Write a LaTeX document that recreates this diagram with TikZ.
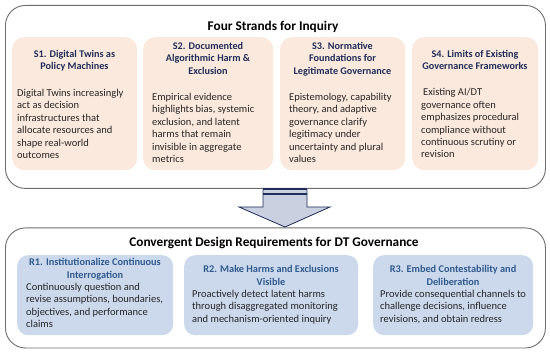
\documentclass[tikz,border=0pt]{standalone}
\usepackage{fontspec}
\setmainfont{Carlito}
\definecolor{peach}{HTML}{FBE9DD}
\definecolor{rblue}{HTML}{CCD9EC}
\definecolor{snavy}{HTML}{1F2D5A}
\definecolor{rtitle}{HTML}{2F5A8F}
\definecolor{bodyc}{HTML}{262626}
\definecolor{framec}{HTML}{6E6E6E}
\definecolor{arrowfill}{HTML}{C9D0DF}
\definecolor{arrownavy}{HTML}{1F2D5A}
\begin{document}
\begin{tikzpicture}[x=1pt,y=-1pt,
  outerbox/.style={draw=framec, line width=0.9pt, rounded corners=20pt, fill=white, anchor=north west, inner sep=0pt},
  sbox/.style={fill=peach, draw=none, rounded corners=12pt, anchor=north west, inner sep=0pt, minimum width=125pt, minimum height=133pt},
  rbox/.style={fill=rblue, draw=none, rounded corners=11pt, anchor=north west, inner sep=0pt, minimum height=80pt},
  maintitle/.style={font=\fontsize{13.3}{16}\selectfont\bfseries, text=black, inner sep=0pt, anchor=north},
  stitle/.style={font=\fontsize{10.2}{12.5}\selectfont\bfseries, text=snavy, align=center, inner sep=0pt, anchor=north},
  rtitlestyle/.style={font=\fontsize{10.3}{13}\selectfont\bfseries, text=rtitle, align=center, inner sep=0pt, anchor=north},
  bodytext/.style={font=\fontsize{10.5}{12.4}\selectfont, text=bodyc, align=left, inner sep=0pt, anchor=north west},
]
\useasboundingbox (0,0) rectangle (550,353);
\fill[white] (0,0) rectangle (550,353);

% top frame
\node[outerbox, minimum width=540pt, minimum height=183pt] (top) at (5,5) {};
\node[maintitle] (toptitle) at (273,20.5) {Four Strands for Inquiry};

% strand boxes
\node[sbox] (s1) at (12,37) {};
\node[sbox, minimum width=130pt] (s2) at (143,37) {};
\node[sbox] (s3) at (280,37) {};
\node[sbox, minimum width=126pt] (s4) at (412,37) {};

\node[stitle] (s1t) at (74.5,50) {S1. Digital Twins as\\Policy Machines};
\node[bodytext] (s1b) at (17,89) {Digital Twins increasingly\\act as decision\\infrastructures that\\allocate resources and\\shape real-world\\outcomes};

\node[stitle] (s2t) at (208,42) {S2. Documented\\Algorithmic Harm \&\\Exclusion};
\node[bodytext] (s2b) at (152,93) {Empirical evidence\\highlights bias, systemic\\exclusion, and latent\\harms that remain\\invisible in aggregate\\metrics};

\node[stitle] (s3t) at (342.5,42) {S3. Normative\\Foundations for\\Legitimate Governance};
\node[bodytext] (s3b) at (289,93) {Epistemology, capability\\theory, and adaptive\\governance clarify\\legitimacy under\\uncertainty and plural\\values};

\node[stitle] (s4t) at (475,50) {S4. Limits of Existing\\Governance Frameworks};
\node[bodytext] (s4b) at (421,88.5) {\hspace{2pt}Existing AI/DT\\governance often\\emphasizes procedural\\compliance without\\continuous scrutiny or\\revision};

% bottom frame
\node[outerbox, minimum width=540pt, minimum height=120pt] (bottom) at (5,227.5) {};
\node[maintitle] (bottitle) at (274,237) {Convergent Design Requirements for DT Governance};

% arrow
\coordinate (al) at (263,189.5);
\coordinate (ar) at (307,189.5);
\path[fill=arrowfill] (al) -- (ar) -- (307,207) -- (330,207) -- (285,227) -- (239,207) -- (263,207) -- cycle;
\draw[arrownavy, line width=0.8pt, line join=miter] (al) -- (263,207) -- (239,207) -- (285,227) -- (330,207) -- (307,207) -- (ar);
\draw[arrownavy, line width=2pt] (al) -- (ar);
\draw[arrownavy, line width=1.4pt] (263,194) -- (307,194);

% requirement boxes
\node[rbox, minimum width=156pt] (r1) at (17,255) {};
\node[rbox, minimum width=174pt] (r2) at (184,255) {};
\node[rbox, minimum width=160pt] (r3) at (373,255) {};

\node[rtitlestyle] (r1t) at (95,258) {R1. Institutionalize Continuous\\Interrogation};
\node[bodytext] (r1b) at (26,283) {Continuously question and\\revise assumptions, boundaries,\\objectives, and performance\\claims};

\node[rtitlestyle] (r2t) at (271,265) {R2. Make Harms and Exclusions\\Visible};
\node[bodytext] (r2b) at (192,290) {Proactively detect latent harms\\through disaggregated monitoring\\and mechanism-oriented inquiry};

\node[rtitlestyle] (r3t) at (453,265) {R3. Embed Contestability and\\Deliberation};
\node[bodytext] (r3b) at (380,290) {Provide consequential channels to\\challenge decisions, influence\\revisions, and obtain redress};
\end{tikzpicture}
\end{document}
